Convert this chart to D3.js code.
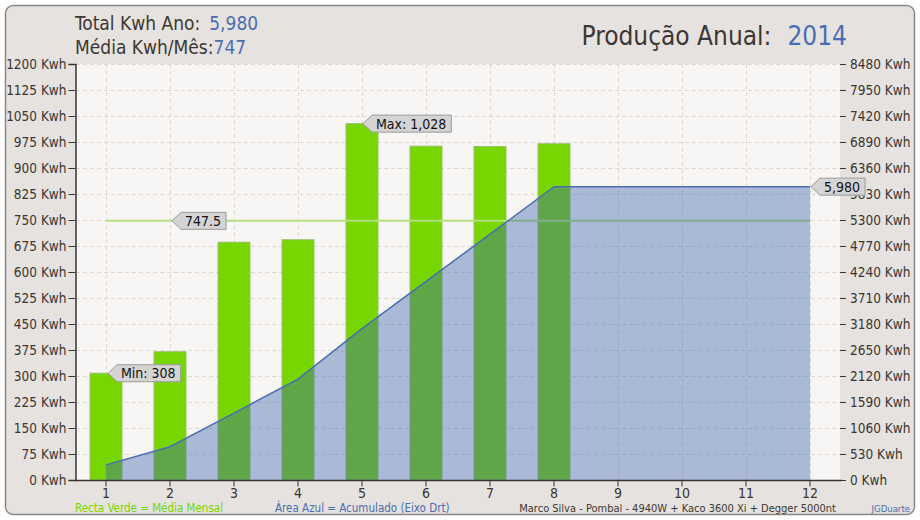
<!DOCTYPE html>
<html>
<head>
<meta charset="utf-8">
<script src="https://cdn.jsdelivr.net/npm/d3@7"></script>
<style>
  body { margin: 0; background: #ffffff; }
  text { font-family: "DejaVu Sans Condensed", "DejaVu Sans", sans-serif; }
</style>
</head>
<body>
<div id="chart"></div>
<script>
const width = 920;
const height = 520;
const fontFam = '"DejaVu Sans Condensed", "DejaVu Sans", sans-serif';

// dados
const months = [1, 2, 3, 4, 5, 6, 7, 8, 9, 10, 11, 12];
const monthKwh = [308, 370, 686, 693, 1028, 963, 962, 970, 0, 0, 0, 0];
const leftTicks = d3.range(0, 1201, 75);
const rightTicks = d3.range(0, 8481, 530);
const year = '2014';

const total = d3.sum(monthKwh);
const mesesComDados = monthKwh.filter(v => v > 0).length;
const media = total / mesesComDados;
let acc = 0;
const acumulado = monthKwh.map(v => (acc += v));

const svg = d3.select('#chart').append('svg')
  .attr('width', width)
  .attr('height', height);

// fundo
svg.append('rect')
  .attr('x', 5.5).attr('y', 5.5)
  .attr('width', width - 11).attr('height', height - 11)
  .attr('rx', 8)
  .attr('fill', '#e6e2df')
  .attr('stroke', '#8c8785')
  .attr('stroke-width', 1.5);

const x = d3.scaleBand()
  .domain(months)
  .range([74, 842]);
const bw = x.bandwidth();
const cx = m => x(m) + bw / 2;

const yL = d3.scaleLinear().domain([0, 1200]).range([480, 64]);
const yR = d3.scaleLinear().domain([0, 8480]).range([480, 64]);

// area do grafico
svg.append('rect')
  .attr('x', 76).attr('y', yL(1200))
  .attr('width', 840 - 76).attr('height', yL(0) - yL(1200))
  .attr('fill', '#f7f6f4');

// grelha
const grid = svg.append('g');
grid.selectAll('.hg')
  .data(leftTicks.filter(t => t > 0))
  .enter().append('line')
  .attr('x1', 76).attr('x2', 840)
  .attr('y1', d => yL(d) + 0.5).attr('y2', d => yL(d) + 0.5)
  .attr('stroke', '#dcd8d4')
  .attr('stroke-dasharray', '4,3');
grid.selectAll('.vg')
  .data(months)
  .enter().append('line')
  .attr('x1', d => cx(d) + 0.5).attr('x2', d => cx(d) + 0.5)
  .attr('y1', yL(1200)).attr('y2', yL(0))
  .attr('stroke', '#dcd8d4')
  .attr('stroke-dasharray', '4,3');

// barras
svg.selectAll('.bar')
  .data(months)
  .enter().append('rect')
  .attr('class', 'bar')
  .attr('x', d => cx(d) - bw / 4)
  .attr('y', (d, i) => yL(monthKwh[i]))
  .attr('width', bw / 2)
  .attr('height', (d, i) => yL(0) - yL(monthKwh[i]))
  .attr('fill', '#77d600')
  .attr('stroke', '#98bf74')
  .attr('stroke-width', 1);

// linha da media
svg.append('line')
  .attr('x1', cx(1)).attr('x2', cx(12))
  .attr('y1', yL(media)).attr('y2', yL(media))
  .attr('stroke', '#b2e07a')
  .attr('stroke-width', 2);

// area acumulada
const area = d3.area()
  .x((d, i) => cx(months[i]))
  .y0(yR(0))
  .y1(d => yR(d));
const line = d3.line()
  .x((d, i) => cx(months[i]))
  .y(d => yR(d));

svg.append('path')
  .datum(acumulado)
  .attr('d', area)
  .attr('fill', '#4064ac')
  .attr('fill-opacity', 0.42);
svg.append('path')
  .datum(acumulado)
  .attr('d', line)
  .attr('fill', 'none')
  .attr('stroke', '#4a6db2')
  .attr('stroke-width', 1.5);

// eixos
const axisColor = '#3a3532';
const gL = svg.append('g')
  .attr('transform', 'translate(75.5,0)')
  .call(d3.axisLeft(yL).tickValues(leftTicks).tickSize(7).tickPadding(2).tickFormat(d => `${d} Kwh`));
const gR = svg.append('g')
  .attr('transform', 'translate(840,0)')
  .call(d3.axisRight(yR).tickValues(rightTicks).tickSize(6).tickPadding(4).tickFormat(d => `${d} Kwh`));
gR.select('.domain').remove();
const gX = svg.append('g')
  .attr('transform', `translate(0,${yL(0) + 0.5})`)
  .call(d3.axisBottom(x).tickSize(6).tickPadding(2).tickSizeOuter(0));
gX.select('.domain').attr('d', `M75,0H842`);

[gL, gR, gX].forEach(g => {
  g.selectAll('text')
    .attr('fill', axisColor)
    .style('font-family', fontFam);
  g.selectAll('line').attr('stroke', axisColor);
  g.selectAll('.domain').attr('stroke', axisColor).attr('stroke-width', 1.5);
});
gL.selectAll('text').style('font-size', '13.5px');
gR.selectAll('text').style('font-size', '13.5px');
gX.selectAll('text').style('font-size', '14px');

// etiquetas
function callout(px, py, label) {
  const g = svg.append('g').attr('transform', `translate(${px},${py})`);
  const t = g.append('text')
    .attr('x', 14).attr('y', 5)
    .style('font-size', '14px')
    .attr('fill', '#111')
    .text(label);
  const w = t.node().getComputedTextLength() + 9;
  g.insert('path', 'text')
    .attr('d', `M1,0 L10,-8.5 H${10 + w} V8.5 H10 Z`)
    .attr('fill', '#d4d4d4')
    .attr('stroke', '#9a9a9a')
    .attr('stroke-width', 1);
}
const fmt = d3.format(',');
const iMin = monthKwh.indexOf(d3.min(monthKwh.filter(v => v > 0)));
const iMax = monthKwh.indexOf(d3.max(monthKwh));
callout(cx(months[iMin]) + 1, yL(monthKwh[iMin]), `Min: ${fmt(monthKwh[iMin])}`);
callout(cx(months[iMax]), yL(monthKwh[iMax]), `Max: ${fmt(monthKwh[iMax])}`);
callout(cx(2) + 1, yL(media), `${media}`);
callout(cx(12), yR(total), fmt(total));

// titulos
const dark = '#3d3733';
const blue = '#4a6db2';
const t1 = svg.append('text').attr('x', 75).attr('y', 30).style('font-size', '19px');
t1.append('tspan').attr('fill', dark).text('Total Kwh Ano:');
t1.append('tspan').attr('fill', blue).attr('dx', 9).text(fmt(total));
const t2 = svg.append('text').attr('x', 75).attr('y', 54).style('font-size', '19px');
t2.append('tspan').attr('fill', dark).text('Média Kwh/Mês:');
t2.append('tspan').attr('fill', blue).text(Math.floor(media));

const t3 = svg.append('text').attr('x', 847).attr('y', 45).attr('text-anchor', 'end').style('font-size', '26px');
t3.append('tspan').attr('fill', dark).text('Produção Anual:');
t3.append('tspan').attr('fill', blue).attr('dx', 16).text(year);

// rodape
svg.append('text').attr('x', 75).attr('y', 512).style('font-size', '11.5px')
  .attr('fill', '#77d600').text('Recta Verde = Média Mensal');
svg.append('text').attr('x', 275).attr('y', 512).style('font-size', '11.5px')
  .attr('fill', '#4a6db2').text('Área Azul = Acumulado (Eixo Drt)');
svg.append('text').attr('x', 836).attr('y', 512).attr('text-anchor', 'end').style('font-size', '11px')
  .attr('fill', dark).text('Marco Silva - Pombal - 4940W + Kaco 3600 Xi + Degger 5000nt');
svg.append('text').attr('x', 910).attr('y', 512).attr('text-anchor', 'end').style('font-size', '9.5px')
  .attr('fill', '#4a6db2').text('JGDuarte');
</script>
</body>
</html>
